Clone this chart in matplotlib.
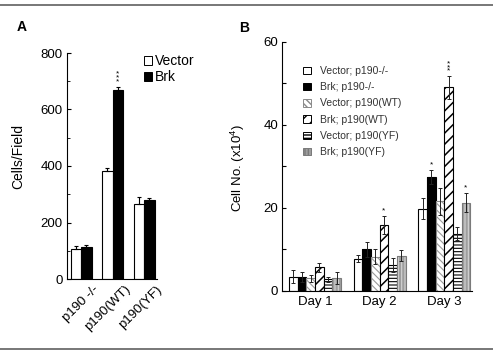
import matplotlib
matplotlib.use("Agg")
import matplotlib.pyplot as plt
import matplotlib.transforms as mtransforms
from matplotlib.lines import Line2D
from matplotlib.patches import Patch
from matplotlib.ticker import MultipleLocator
import numpy as np

plt.rcParams.update({
    "font.family": ["Liberation Sans", "DejaVu Sans"],
    "mathtext.fontset": "custom",
    "mathtext.rm": "Liberation Sans",
    "mathtext.default": "regular",
    "axes.linewidth": 0.8,
    "axes.spines.top": False,
    "axes.spines.right": False,
})

# ── Panel A data ─────────────────────────────────────────────────────────────
a_groups = ["p190 -/-", "p190(WT)", "p190(YF)"]
a_vector = [106, 381, 267]
a_vector_err = [10, 12, 24]
a_brk = [114, 669, 279]
a_brk_err = [8, 12, 7]

# ── Panel B data ─────────────────────────────────────────────────────────────
days = ["Day 1", "Day 2", "Day 3"]
b_labels = ["Vector; p190-/-", "Brk; p190-/-", "Vector; p190(WT)",
            "Brk; p190(WT)", "Vector; p190(YF)", "Brk; p190(YF)"]
vec_ko = [3.4, 7.7, 19.8]
vec_ko_err = [1.5, 0.9, 2.6]
brk_ko = [3.4, 10.0, 27.4]
brk_ko_err = [1.2, 1.8, 1.8]
vec_wt = [3.0, 8.2, 21.5]
vec_wt_err = [0.8, 1.8, 3.3]
brk_wt = [5.6, 15.8, 49.0]
brk_wt_err = [1.0, 2.2, 2.7]
vec_yf = [2.8, 6.2, 13.7]
vec_yf_err = [0.6, 1.6, 1.6]
brk_yf = [3.1, 8.4, 21.2]
brk_yf_err = [1.4, 1.3, 2.3]

# significance marks: (series index, day index, text)
b_stars = [(1, 2, "*"), (3, 1, "*"), (3, 2, "*\n*\n*"), (5, 2, "*")]

# style per series: face, hatch, hatch colour, edge
B_STYLE = [
    ("white", "", "black", "black"),
    ("black", "", "black", "black"),
    ("white", "\\\\\\\\\\", "#9a9a9a", "#8a8a8a"),
    ("white", "///", "black", "black"),
    ("white", "-----", "black", "black"),
    ("#9e9e9e", "|||||", "#d4d4d4", "#7a7a7a"),
]

W, H = 493, 352
fig = plt.figure(figsize=(W / 100, H / 100), dpi=100)

# ── Panel A ──────────────────────────────────────────────────────────────────
axA = fig.add_axes([67 / W, (H - 279) / H, 90 / W, 226 / H])
xa = np.arange(len(a_groups))
wa = 0.333
axA.bar(xa - wa / 2, a_vector, wa, color="white", edgecolor="black", lw=0.8,
        yerr=[np.zeros(3), a_vector_err], error_kw=dict(lw=0.8, capsize=1.5, capthick=0.8))
axA.bar(xa + wa / 2, a_brk, wa, color="black", edgecolor="black", lw=0.8,
        yerr=[np.zeros(3), a_brk_err], error_kw=dict(lw=0.8, capsize=1.5, capthick=0.8))
axA.annotate("*\n*\n*", (xa[1] + wa / 2, a_brk[1] + a_brk_err[1]),
             xytext=(0, 1), textcoords="offset points", ha="center", va="bottom",
             fontsize=6, linespacing=0.35)
axA.set_xlim(-0.444, 2.41)
axA.set_ylim(0, 800)
axA.yaxis.set_major_locator(MultipleLocator(200))
axA.yaxis.set_minor_locator(MultipleLocator(100))
axA.tick_params(axis="y", direction="in", length=3, width=0.8, labelsize=9.5, pad=3)
axA.tick_params(axis="y", which="minor", direction="in", length=2, width=0.6)
axA.set_xticks(xa)
axA.set_xticklabels(a_groups, rotation=45, ha="right", va="top",
                    rotation_mode="anchor", fontsize=9.5)
axA.tick_params(axis="x", length=0, pad=3)
shift = mtransforms.ScaledTranslation(0.12, 0, fig.dpi_scale_trans)
for lab in axA.get_xticklabels():
    lab.set_transform(lab.get_transform() + shift)
axA.set_ylabel("Cells/Field", fontsize=10)
axA.yaxis.set_label_coords(-0.467, 0.54)
axA.legend(handles=[Patch(facecolor="white", edgecolor="black", lw=0.7, label="Vector"),
                    Patch(facecolor="black", edgecolor="black", lw=0.7, label="Brk")],
           loc="upper left", bbox_to_anchor=(144 / W, 1 - 54 / H),
           bbox_transform=fig.transFigure, frameon=False, fontsize=10,
           handlelength=0.6, handleheight=0.6, handletextpad=0.2,
           labelspacing=0.15, borderpad=0, borderaxespad=0)

# ── Panel B ──────────────────────────────────────────────────────────────────
axB = fig.add_axes([282.3 / W, (H - 290.7) / H, 189.7 / W, 249 / H])
xb = np.arange(len(days))
wb = 0.134
b_vals = [vec_ko, brk_ko, vec_wt, brk_wt, vec_yf, brk_yf]
b_errs = [vec_ko_err, brk_ko_err, vec_wt_err, brk_wt_err, vec_yf_err, brk_yf_err]
handles = []
for i, (vals, errs) in enumerate(zip(b_vals, b_errs)):
    face, hatch, hcol, ecol = B_STYLE[i]
    pos = xb + (i - 2.5) * wb
    bars = axB.bar(pos, vals, wb, color=face, edgecolor=hcol, lw=0, hatch=hatch)
    axB.bar(pos, vals, wb, fill=False, edgecolor=ecol, lw=0.8)
    if hatch:
        for b in bars:
            try:
                b.set_hatch_linewidth(1.1 if i == 3 else 0.8)
            except AttributeError:
                pass
    axB.errorbar(pos, vals, yerr=errs, fmt="none", ecolor="#222222",
                 elinewidth=0.7, capsize=1.5, capthick=0.7)
    hp = Patch(facecolor=face, edgecolor=ecol, hatch=hatch, lw=0.7, label=b_labels[i])
    handles.append(hp)

for si, di, txt in b_stars:
    pos = xb[di] + (si - 2.5) * wb
    top = b_vals[si][di] + b_errs[si][di]
    axB.annotate(txt, (pos, top), xytext=(0, 1), textcoords="offset points",
                 ha="center", va="bottom", fontsize=6, linespacing=0.35)

axB.set_xlim(-0.506, 2.43)
axB.set_ylim(0, 60)
axB.yaxis.set_major_locator(MultipleLocator(20))
axB.yaxis.set_minor_locator(MultipleLocator(10))
axB.tick_params(axis="y", direction="in", length=3, width=0.8, labelsize=9.5, pad=3)
axB.tick_params(axis="y", which="minor", direction="in", length=3, width=0.8)
axB.set_xticks(xb)
axB.set_xticklabels(days, fontsize=9.5)
axB.tick_params(axis="x", length=0, pad=4)
axB.set_ylabel("Cell No. (x10$^4$)", fontsize=9.5)
axB.yaxis.set_label_coords(-0.188, 0.493)
leg = axB.legend(handles=handles, loc="upper left", bbox_to_anchor=(303 / W, 1 - 66 / H),
                 bbox_transform=fig.transFigure, frameon=False, fontsize=7.5,
                 handlelength=0.75, handleheight=0.75, handletextpad=0.9,
                 labelspacing=0.6, borderpad=0, borderaxespad=0)
for t in leg.get_texts():
    t.set_color("#333333")

# ── Panel letters & frame ────────────────────────────────────────────────────
fig.text(22 / W, 1 - 27 / H, "A", fontsize=10, fontweight="bold", ha="center", va="center")
fig.text(244 / W, 1 - 28 / H, "B", fontsize=10, fontweight="bold", ha="center", va="center")
for yy in (4.5, 348.5):
    fig.add_artist(Line2D([0, 1], [1 - yy / H, 1 - yy / H], transform=fig.transFigure,
                          color="#777777", lw=1.4))

fig.savefig("out.png", dpi=100)
